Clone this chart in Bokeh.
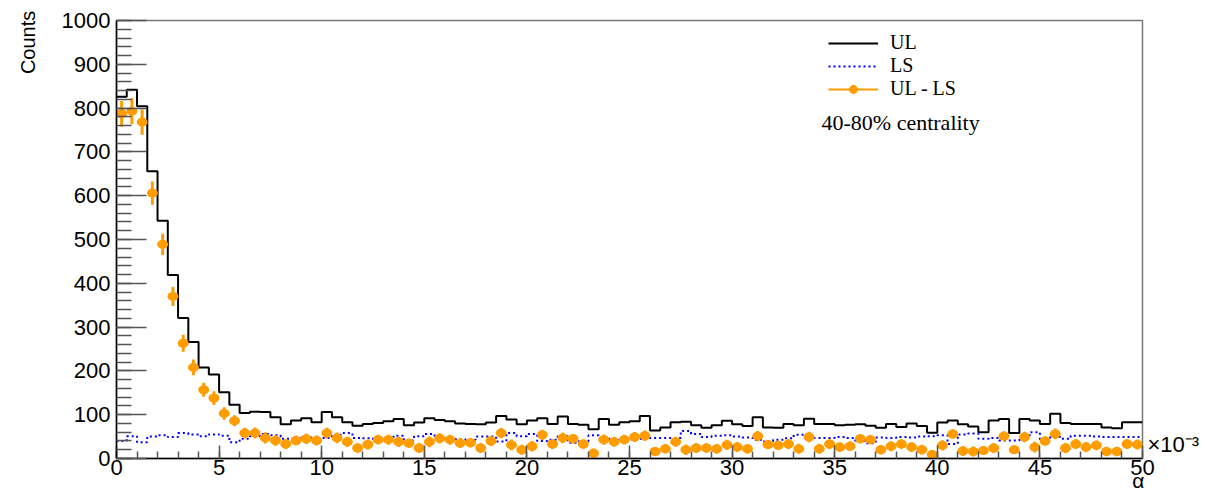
import numpy as np
from bokeh.plotting import figure
from bokeh.models import (Range1d, FixedTicker, Legend, LegendItem, ColumnDataSource,
                          LinearAxis, Label)
from bokeh.embed import file_html
from bokeh.resources import INLINE

# ---- data (alpha in units of 1e-3, 100 bins of width 0.5) ----
bin_width = 0.5
ul_counts = [826, 842, 804, 656, 543, 419, 321, 266, 208, 192,
             151, 123, 104, 107, 106, 94, 78, 87, 92, 83,
             106, 94, 83, 75, 79, 81, 85, 90, 76, 82,
             92, 88, 85, 80, 79, 78, 82, 97, 89, 78,
             87, 92, 79, 96, 79, 77, 67, 90, 77, 83,
             85, 97, 64, 71, 83, 84, 76, 70, 76, 86,
             78, 74, 94, 71, 70, 79, 76, 91, 79, 79,
             76, 77, 78, 75, 70, 79, 72, 80, 74, 59,
             82, 87, 78, 73, 60, 87, 90, 58, 90, 87,
             79, 102, 81, 79, 79, 79, 71, 69, 83, 83]
ls_counts = [40, 51, 37, 50, 53, 49, 58, 55, 51, 55,
             52, 37, 45, 51, 56, 53, 45, 45, 48, 44,
             47, 54, 58, 47, 46, 42, 44, 52, 41, 51,
             56, 47, 45, 44, 43, 50, 50, 39, 58, 51,
             56, 40, 43, 51, 36, 39, 53, 46, 42, 41,
             43, 45, 47, 47, 47, 63, 56, 49, 52, 53,
             50, 48, 43, 39, 43, 46, 54, 50, 47, 47,
             49, 47, 40, 35, 48, 47, 49, 48, 50, 51,
             53, 33, 55, 57, 45, 47, 41, 41, 49, 60,
             41, 49, 45, 52, 52, 50, 49, 49, 49, 49]
diff_counts = [787, 793, 768, 606, 489, 370, 263, 208, 157, 138,
               103, 86, 58, 58, 47, 41, 33, 41, 45, 41,
               58, 47, 38, 24, 32, 43, 43, 38, 35, 24,
               38, 46, 43, 35, 36, 24, 40, 58, 31, 20,
               28, 54, 33, 47, 45, 33, 12, 43, 38, 43,
               49, 52, 16, 22, 38, 20, 24, 24, 22, 31,
               26, 22, 51, 32, 30, 33, 22, 49, 22, 33,
               26, 28, 45, 43, 20, 28, 33, 26, 20, 9,
               30, 56, 17, 16, 18, 24, 51, 20, 49, 26,
               40, 56, 24, 33, 26, 30, 16, 16, 33, 32]
x_ticks = [0, 5, 10, 15, 20, 25, 30, 35, 40, 45, 50]
y_ticks = [0, 100, 200, 300, 400, 500, 600, 700, 800, 900, 1000]
series_labels = ["UL", "LS", "UL - LS"]
annotation_text = "40-80% centrality"
y_title, x_title, x_scale_text = "Counts", "α", "×10⁻³"

ORANGE = "#ff9c00"

n = len(ul_counts)
edges = np.arange(n + 1) * bin_width
centers = edges[:-1] + bin_width / 2
ul_ext = list(ul_counts) + [ul_counts[-1]]
ls_ext = list(ls_counts) + [ls_counts[-1]]
err = np.sqrt(np.array(ul_counts, float) + np.array(ls_counts, float))
diff = np.array(diff_counts, float)
src = ColumnDataSource(dict(x=centers, y=diff, lo=diff - err, hi=diff + err))

p = figure(width=1204, height=497, x_range=Range1d(0, 50), y_range=Range1d(0, 1000),
           output_backend="svg", toolbar_location=None,
           min_border_left=116, min_border_right=62, min_border_top=20, min_border_bottom=39)
p.xgrid.visible = False
p.ygrid.visible = False
p.outline_line_color = "#777777"
p.outline_line_width = 1.5
p.background_fill_color = "white"
p.border_fill_color = "white"

p.xaxis.ticker = FixedTicker(ticks=x_ticks, minor_ticks=list(range(0, 51)))
p.yaxis.ticker = FixedTicker(ticks=y_ticks, minor_ticks=list(range(0, 1001, 20)))
for ax in (p.xaxis[0], p.yaxis[0]):
    ax.major_tick_out = 0
    ax.minor_tick_out = 0
    ax.axis_line_color = "black"
    ax.axis_line_width = 1.5
    ax.major_tick_line_color = "#555555"
    ax.minor_tick_line_color = "#555555"
    ax.major_tick_line_width = 1.5
    ax.minor_tick_line_width = 1.5
    ax.major_label_text_font = "Liberation Sans"
    ax.major_label_text_font_size = "22px"
    ax.major_label_text_color = "black"
p.xaxis.major_tick_in = 13
p.xaxis.minor_tick_in = 7
p.yaxis.major_tick_in = 30
p.yaxis.minor_tick_in = 15
p.xaxis.major_label_standoff = 1
p.yaxis.major_label_standoff = 6


def text_axis(value, text, size, standoff, **kw):
    return LinearAxis(ticker=FixedTicker(ticks=[value], minor_ticks=[]),
                      major_label_overrides={value: text},
                      major_label_standoff=standoff,
                      major_label_text_font="Liberation Sans",
                      major_label_text_font_size=size,
                      major_label_text_color="black",
                      axis_line_color=None, major_tick_line_color=None,
                      minor_tick_line_color=None, major_tick_out=0, major_tick_in=0,
                      minor_tick_out=0, minor_tick_in=0, **kw)


# "Counts" title at the top of the y axis, alpha at the end of the x axis, x10^-3 multiplier
p.add_layout(text_axis(950, y_title, "20px", 19, major_label_orientation="vertical"), "left")
p.add_layout(text_axis(49.8, x_title, "21px", -9), "below")
p.add_layout(text_axis(33, x_scale_text, "22px", 5), "right")

ul_r = p.step(edges, ul_ext, mode="after", line_color="black", line_width=2)
ls_r = p.step(edges, ls_ext, mode="after", line_color="#0000ff", line_width=2, line_dash="2 3")
p.segment(x0="x", y0="lo", x1="x", y1="hi", source=src, line_color=ORANGE, line_width=3)
p.ellipse(x="x", y="y", width=11, height=9, width_units="screen", height_units="screen",
          source=src, fill_color=ORANGE, line_color=None)

# legend-only glyphs for the UL - LS entry (hidden in the plot, drawn in the legend)
leg_line = p.line(x="x", y="y", source=src, line_color=ORANGE, line_width=2, visible=False)
leg_dot = p.scatter(x="x", y="y", source=src, marker="circle", size=9,
                    fill_color=ORANGE, line_color=None, visible=False)
leg_cross = p.scatter(x="x", y="y", source=src, marker="cross", size=12,
                      line_color=ORANGE, line_width=2.5, visible=False)

legend = Legend(items=[LegendItem(label=series_labels[0], renderers=[ul_r]),
                       LegendItem(label=series_labels[1], renderers=[ls_r]),
                       LegendItem(label=series_labels[2], renderers=[leg_line, leg_dot, leg_cross])],
                location=(712, 358), orientation="vertical", glyph_width=50, glyph_height=22,
                label_height=22, spacing=0, padding=0, margin=0, label_standoff=12,
                border_line_alpha=0, background_fill_alpha=0,
                label_text_font="Liberation Serif", label_text_font_size="20px",
                label_text_color="black", click_policy="none")
p.add_layout(legend)

p.add_layout(Label(x=705, y=336, x_units="screen", y_units="screen", text=annotation_text,
                   text_font="Liberation Serif", text_font_size="22px", text_color="black",
                   text_align="left", text_baseline="middle"))

open("out.html", "w").write(file_html(p, INLINE))
